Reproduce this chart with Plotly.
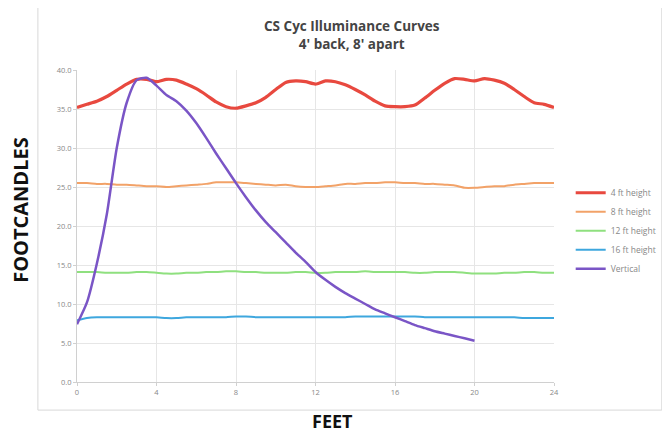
import plotly.graph_objects as go

feet = [0, 0.5, 1, 1.5, 2, 2.5, 3, 3.5, 4, 4.5, 5, 5.5, 6, 6.5, 7, 7.5, 8, 8.5, 9, 9.5,
        10, 10.5, 11, 11.5, 12, 12.5, 13, 13.5, 14, 14.5, 15, 15.5, 16, 16.5, 17, 17.5,
        18, 18.5, 19, 19.5, 20, 20.5, 21, 21.5, 22, 22.5, 23, 23.5, 24]

ht4 = [35.2, 35.6, 36.0, 36.6, 37.4, 38.2, 38.8, 38.8, 38.5, 38.8, 38.7, 38.2, 37.6, 36.8,
       35.9, 35.3, 35.1, 35.4, 35.8, 36.5, 37.5, 38.4, 38.6, 38.5, 38.2, 38.6, 38.5, 38.1,
       37.5, 36.8, 36.0, 35.4, 35.3, 35.3, 35.5, 36.4, 37.4, 38.3, 38.9, 38.8, 38.6, 38.9,
       38.7, 38.3, 37.5, 36.6, 35.8, 35.6, 35.2]

ht8 = [25.5, 25.5, 25.4, 25.4, 25.3, 25.3, 25.2, 25.1, 25.1, 25.0, 25.1, 25.2, 25.3, 25.4,
       25.6, 25.6, 25.6, 25.5, 25.4, 25.3, 25.2, 25.3, 25.1, 25.0, 25.0, 25.1, 25.2, 25.4,
       25.4, 25.5, 25.5, 25.6, 25.6, 25.5, 25.5, 25.4, 25.4, 25.3, 25.2, 24.9, 24.9, 25.0,
       25.1, 25.1, 25.3, 25.4, 25.5, 25.5, 25.5]

ht12 = [14.1, 14.1, 14.1, 14.0, 14.0, 14.0, 14.1, 14.1, 14.0, 13.9, 13.9, 14.0, 14.0, 14.1,
        14.1, 14.2, 14.2, 14.1, 14.1, 14.0, 14.0, 14.0, 14.1, 14.1, 14.0, 14.0, 14.1, 14.1,
        14.1, 14.2, 14.1, 14.1, 14.1, 14.1, 14.0, 14.0, 14.1, 14.1, 14.1, 14.0, 13.9, 13.9,
        13.9, 14.0, 14.0, 14.1, 14.1, 14.0, 14.0]

ht16 = [7.9, 8.2, 8.3, 8.3, 8.3, 8.3, 8.3, 8.3, 8.3, 8.2, 8.2, 8.3, 8.3, 8.3, 8.3, 8.3,
        8.4, 8.4, 8.3, 8.3, 8.3, 8.3, 8.3, 8.3, 8.3, 8.3, 8.3, 8.3, 8.4, 8.4, 8.4, 8.4,
        8.4, 8.4, 8.4, 8.3, 8.3, 8.3, 8.3, 8.3, 8.3, 8.3, 8.3, 8.3, 8.3, 8.2, 8.2, 8.2, 8.2]

vert_feet = [0, 0.5, 1, 1.5, 2, 2.5, 3, 3.5, 4, 4.5, 5, 5.5, 6, 6.5, 7, 7.5, 8, 8.5, 9, 9.5,
             10, 10.5, 11, 11.5, 12, 12.5, 13, 13.5, 14, 14.5, 15, 15.5, 16, 16.5, 17, 17.5,
             18, 18.5, 19, 19.5, 20]
vertical = [7.4, 10.2, 15.2, 21.5, 30.0, 35.8, 38.7, 39.0, 38.0, 36.8, 36.0, 34.8, 33.2,
            31.3, 29.3, 27.4, 25.5, 23.7, 22.0, 20.5, 19.2, 17.9, 16.6, 15.4, 14.1, 13.1,
            12.2, 11.4, 10.7, 10.0, 9.3, 8.8, 8.3, 7.8, 7.3, 6.9, 6.5, 6.2, 5.9, 5.6, 5.3]

names = ["4 ft height", "8 ft height", "12 ft height", "16 ft height", "Vertical"]
colors = ["#e8493f", "#f2a268", "#8fe07f", "#3ea7de", "#7a55c6"]
widths = [3.2, 2, 2, 2, 2.5]

y_ticks = [0, 5, 10, 15, 20, 25, 30, 35, 40]
y_labels = ["0.0", "5.0", "10.0", "15.0", "20.0", "25.0", "30.0", "35.0", "40.0"]
x_ticks = [0, 4, 8, 12, 16, 20, 24]

fig = go.Figure()
series = [(feet, ht4), (feet, ht8), (feet, ht12), (feet, ht16), (vert_feet, vertical)]
for (xs, ys), n, c, w in zip(series, names, colors, widths):
    fig.add_trace(go.Scatter(x=xs, y=ys, mode="lines", name=n,
                             line=dict(color=c, width=w, shape="spline", smoothing=0.6)))

fig.update_layout(
    width=662, height=426,
    margin=dict(l=69, r=116, t=62, b=52, autoexpand=False),
    paper_bgcolor="white", plot_bgcolor="white",
    font=dict(family="Open Sans", color="#777"),
    legend=dict(x=1.035, y=0.653, xanchor="left", yanchor="top",
                font=dict(size=8.5, color="#888"), itemwidth=30,
                bgcolor="rgba(0,0,0,0)"),
    xaxis=dict(range=[0, 24], tickvals=x_ticks, showgrid=True, gridcolor="#e6e6e6",
               zeroline=False, showline=True, linecolor="#d0d0d0", ticks="outside",
               ticklen=3, tickcolor="#d0d0d0", tickfont=dict(size=7.5, color="#888")),
    yaxis=dict(range=[0, 40], tickvals=y_ticks, ticktext=y_labels, showgrid=True,
               gridcolor="#e6e6e6", zeroline=False, showline=True, linecolor="#d0d0d0",
               ticks="outside", ticklen=3, tickcolor="#d0d0d0",
               tickfont=dict(size=7.5, color="#888")),
)

# outer chart frame
fig.add_shape(type="rect", xref="paper", yref="paper", x0=-0.082, x1=1.226,
              y0=-0.09, y1=1.202, line=dict(color="#d8d8d8", width=1), layer="below")

fig.add_annotation(text="<b>CS Cyc Illuminance Curves<br>4' back, 8' apart</b>",
                   xref="paper", yref="paper", x=0.5755, y=1.112,
                   xanchor="center", yanchor="middle", showarrow=False,
                   font=dict(size=13.5, color="#444", family="Open Sans"))
fig.add_annotation(text="<b>FOOTCANDLES</b>", xref="paper", yref="paper", x=-0.12, y=0.551,
                   xanchor="center", yanchor="middle", textangle=-90, showarrow=False,
                   font=dict(size=20, color="#111", family="Open Sans"))
fig.add_annotation(text="<b>FEET</b>", xref="paper", yref="paper", x=0.536, y=-0.125,
                   xanchor="center", yanchor="middle", showarrow=False,
                   font=dict(size=18, color="#111", family="Open Sans"))

fig.write_html("out.html")
